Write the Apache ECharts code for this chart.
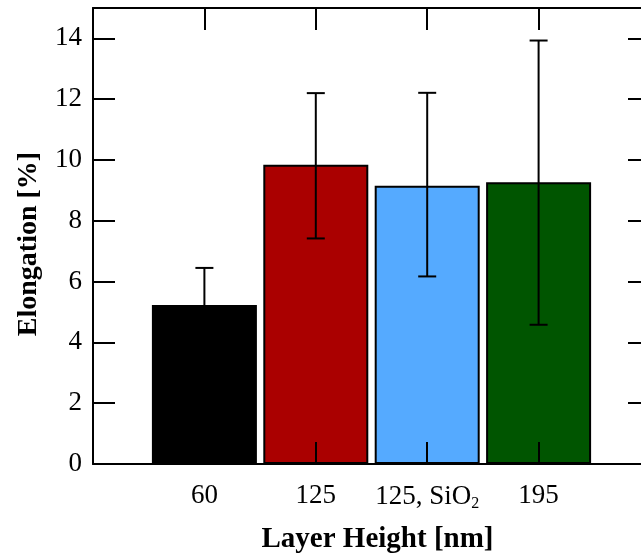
<!DOCTYPE html>
<html>
<head>
<meta charset="utf-8">
<style>html,body{margin:0;padding:0;background:#fff;}#c{width:641px;height:556px;}</style>
<script src="https://cdn.jsdelivr.net/npm/echarts@6/dist/echarts.min.js"></script>
</head>
<body>
<div id="c"></div>
<script>
const categories = ['60', '125', '125, SiO2', '195'];
const positions = [1, 2, 3, 4];
const elongation = [5.23, 9.84, 9.15, 9.27];
const errLow = [4.01, 7.42, 6.17, 4.58];
const errHigh = [6.45, 12.2, 12.21, 13.93];
const barColors = ['#000000', '#aa0000', '#55aaff', '#005500'];

const FONT = "'Palatino Linotype', 'Book Antiqua', Palatino, 'Liberation Serif', serif";

const chart = echarts.init(document.getElementById('c'), null, {renderer: 'canvas'});

function catLabel(v) {
  const i = positions.indexOf(v);
  if (i < 0) return '';
  const c = categories[i];
  if (c === '125, SiO2') return '{a|125, SiO}{s|2}';
  return '{a|' + c + '}';
}

const tickStyle = {show: true, inside: true, length: 22, lineStyle: {color: '#000', width: 2}};
const lineStyle = {show: true, onZero: false, lineStyle: {color: '#000', width: 2}};

const option = {
  animation: false,
  backgroundColor: '#fff',
  grid: {left: 93, top: 8, right: -9, bottom: 92, containLabel: false, outerBoundsMode: 'none'},
  xAxis: [{
    type: 'value', min: 0, max: 5, interval: 1, position: 'bottom', z: 10,
    axisLine: lineStyle, axisTick: tickStyle, splitLine: {show: false},
    axisLabel: {
      margin: 18, color: '#000', fontFamily: FONT, fontSize: 27,
      formatter: catLabel,
      rich: {
        a: {fontFamily: FONT, fontSize: 27, color: '#000'},
        s: {fontFamily: FONT, fontSize: 16, color: '#000', padding: [14, 0, 0, 0]}
      }
    },
    name: 'Layer Height [nm]', nameLocation: 'middle', nameGap: 61,
    nameTextStyle: {fontFamily: FONT, fontSize: 29, fontWeight: 'bold', color: '#000', padding: [0, 0, 0, 12]}
  }, {
    type: 'value', min: 0, max: 5, interval: 1, position: 'top', z: 10,
    axisLine: lineStyle, axisTick: tickStyle, splitLine: {show: false},
    axisLabel: {show: false}
  }],
  yAxis: [{
    type: 'value', min: 0, max: 15, interval: 2, position: 'left', z: 10,
    axisLine: lineStyle, axisTick: tickStyle, splitLine: {show: false},
    axisLabel: {margin: 11, color: '#000', fontFamily: FONT, fontSize: 27,
      formatter: v => (v <= 14 ? String(v) : '')},
    name: 'Elongation [%]', nameLocation: 'middle', nameGap: 50, nameRotate: 90,
    nameTextStyle: {fontFamily: FONT, fontSize: 28, fontWeight: 'bold', color: '#000', padding: [0, 16, 0, 0]}
  }, {
    type: 'value', min: 0, max: 15, interval: 2, position: 'right', z: 10,
    axisLine: lineStyle, axisTick: tickStyle, splitLine: {show: false},
    axisLabel: {show: false}
  }],
  series: [{
    type: 'bar', xAxisIndex: 0, yAxisIndex: 0, barWidth: 105, z: 2,
    data: positions.map((p, i) => ({
      value: [p, elongation[i]],
      itemStyle: {color: barColors[i], borderColor: '#000', borderWidth: 2}
    }))
  }, {
    type: 'custom', xAxisIndex: 0, yAxisIndex: 0, z: 5,
    data: positions.map((p, i) => [p, errLow[i], errHigh[i]]),
    renderItem: function (params, api) {
      const x = api.value(0);
      const lo = api.coord([x, api.value(1)]);
      const hi = api.coord([x, api.value(2)]);
      const hw = 9;
      const st = {stroke: '#000', lineWidth: 2};
      return {
        type: 'group',
        children: [
          {type: 'line', shape: {x1: lo[0], y1: lo[1], x2: hi[0], y2: hi[1]}, style: st},
          {type: 'line', shape: {x1: lo[0] - hw, y1: lo[1], x2: lo[0] + hw, y2: lo[1]}, style: st},
          {type: 'line', shape: {x1: hi[0] - hw, y1: hi[1], x2: hi[0] + hw, y2: hi[1]}, style: st}
        ]
      };
    }
  }]
};
chart.setOption(option);
</script>
</body>
</html>
